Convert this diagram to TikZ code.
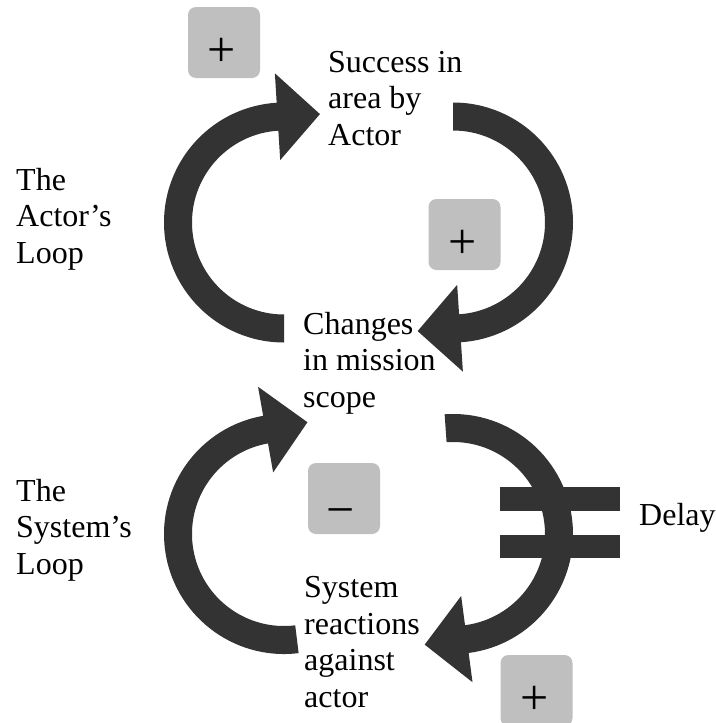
\documentclass[tikz,border=0pt]{standalone}
\usepackage{fontspec}
\setmainfont{Liberation Serif}
\usetikzlibrary{calc}

\definecolor{loopdark}{HTML}{333333}
\definecolor{signgray}{HTML}{BFBFBF}

% Thick circular feedback arrow: #1 centre, #2 start angle, #3 end angle
% (drawn clockwise from #2 to #3, arrow head at #3)
\newcommand{\feedbackarc}[3]{%
  \fill[loopdark]
    ($(#1)+(#2:120)$) arc[start angle=#2, end angle=#3, radius=120pt]
    -- ($(#1)+(#3:149.5)$)
    -- ($(#1)+(#3:106)+({#3-90}:42.5)$)
    -- ($(#1)+(#3:62.5)$)
    -- ($(#1)+(#3:92)$) arc[start angle=#3, end angle=#2, radius=92pt]
    -- cycle;}

% multi-line labels are placed by the baseline of their last line
\tikzset{
  lbl/.style={anchor=base west, align=left, inner sep=0pt,
              font=\fontsize{32}{36.5}\selectfont},
  signbox/.style={fill=signgray, rounded corners=8pt, minimum width=72pt,
                  minimum height=71pt, inner sep=0pt},
  sign/.style={anchor=base, inner sep=0pt, font=\fontsize{50}{50}\selectfont},
}

\begin{document}
\begin{tikzpicture}[x=1pt, y=1pt]
  \clip (0,0) rectangle (715,-723);
  \useasboundingbox (0,0) rectangle (715,-723);

  % loop centres
  \coordinate (actorL)  at (284,-222.5);
  \coordinate (actorR)  at (453,-222.5);
  \coordinate (systemL) at (284,-534);
  \coordinate (systemR) at (453,-534);

  % the four arrows
  \feedbackarc{actorL}{-90}{-266.5}
  \feedbackarc{actorR}{90}{-86.2}
  \feedbackarc{systemL}{-83}{-260}
  \feedbackarc{systemR}{94}{-82.5}

  % delay marks across the lower right arrow
  \fill[loopdark] (500,-487) rectangle (620,-511);
  \fill[loopdark] (500,-535) rectangle (620,-558);

  % polarity signs
  \node[signbox] (s1) at (224,-42.5) {};
  \node[sign] (s1t) at ($(s1.center)+(-2,-24)$) {+};
  \node[signbox] (s2) at (464.5,-234.5) {};
  \node[sign] (s2t) at ($(s2.center)+(-2,-24)$) {+};
  \node[signbox] (s3) at (344,-498.5) {};
  \node[sign] (s3t) at ($(s3.center)+(-3,-28)$) {−};
  \node[signbox] (s4) at (536.5,-690.5) {};
  \node[sign] (s4t) at ($(s4.center)+(-2,-24)$) {+};

  % labels
  \node[lbl] (success) at (328,-145)  {Success in\\area by\\Actor};
  \node[lbl] (changes) at (303,-407) {Changes\\in mission\\scope};
  \node[lbl] (reaction) at (304,-707) {System\\reactions\\against\\actor};
  \node[lbl] (actorloop) at (16,-263) {The\\Actor’s\\Loop};
  \node[lbl] (systemloop) at (16,-574) {The\\System’s\\Loop};
  \node[lbl] (delay) at (639,-525) {Delay};
\end{tikzpicture}
\end{document}
